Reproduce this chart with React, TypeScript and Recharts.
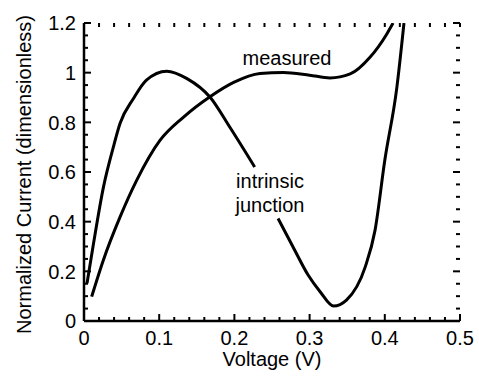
import { LineChart, Line, XAxis, YAxis } from "recharts";

// intrinsic junction curve (null = hidden behind the label)
const intrinsicV = [0.004, 0.012, 0.026, 0.039, 0.048, 0.066, 0.083, 0.11, 0.137, 0.168, 0.194, 0.227, 0.242, 0.258, 0.278, 0.298, 0.314, 0.332, 0.349, 0.374, 0.387, 0.4, 0.416, 0.4255];
const intrinsicI = [0.152, 0.3, 0.541, 0.7, 0.796, 0.897, 0.97, 1.006, 0.976, 0.9, 0.78, 0.62, null, 0.413, 0.298, 0.185, 0.118, 0.06, 0.084, 0.218, 0.365, 0.647, 0.94, 1.2];

// measured curve
const measuredV = [0.0102, 0.0257, 0.048, 0.07, 0.101, 0.132, 0.168, 0.199, 0.234, 0.265, 0.3, 0.327, 0.354, 0.38, 0.4025, 0.411];
const measuredI = [0.098, 0.245, 0.419, 0.566, 0.727, 0.82, 0.904, 0.961, 0.997, 1.001, 0.99, 0.979, 0.995, 1.061, 1.155, 1.2];

const xTickLabels = ["0", "0.1", "0.2", "0.3", "0.4", "0.5"];
const yTickLabels = ["0", "0.2", "0.4", "0.6", "0.8", "1", "1.2"];

const intrinsic = intrinsicV.map((x, i) => ({ x, y: intrinsicI[i] }));
const measured = measuredV.map((x, i) => ({ x, y: measuredI[i] }));

// minor ticks every 0.02 on x, 0.05 on y
const xTicks = Array.from({ length: 26 }, (_, i) => i / 50);
const yTicks = Array.from({ length: 25 }, (_, i) => i / 20);

const W = 479;
const H = 376;
const LEFT = 84;
const RIGHT = 460;
const TOP = 23;
const BOTTOM = 321;
const FONT = "'Liberation Sans', Arial, sans-serif";

const XTick = (props: any) => {
  const { x, payload } = props;
  const i = Math.round(payload.value * 50);
  const major = i % 5 === 0;
  const len = major ? 7 : 4;
  return (
    <g>
      <line x1={x} x2={x} y1={BOTTOM} y2={BOTTOM - len} stroke="#000" strokeWidth={2} />
      <line x1={x} x2={x} y1={TOP} y2={TOP + 4} stroke="#000" strokeWidth={2} />
      {major && (
        <text x={x} y={345} textAnchor="middle" fontSize={20} fontFamily={FONT} fill="#000">
          {xTickLabels[i / 5]}
        </text>
      )}
    </g>
  );
};

const YTick = (props: any) => {
  const { y, payload } = props;
  const i = Math.round(payload.value * 20);
  const major = i % 4 === 0;
  const len = major ? 7 : 4;
  return (
    <g>
      <line x1={LEFT} x2={LEFT + len} y1={y} y2={y} stroke="#000" strokeWidth={2} />
      <line x1={RIGHT} x2={RIGHT - len} y1={y} y2={y} stroke="#000" strokeWidth={2} />
      {major && (
        <text x={76} y={y} dy="0.36em" textAnchor="end" fontSize={20} fontFamily={FONT} fill="#000">
          {yTickLabels[i / 4]}
        </text>
      )}
    </g>
  );
};

const axisLine = { stroke: "#000", strokeWidth: 2.5 };

export default function App() {
  return (
    <div style={{ position: "absolute", left: 0, top: 0, background: "#fff" }}>
      <LineChart width={W} height={H} margin={{ top: TOP, right: W - RIGHT, bottom: 0, left: 0 }}>
        <XAxis
          dataKey="x"
          type="number"
          domain={[0, 0.5]}
          ticks={xTicks}
          interval={0}
          tick={XTick}
          tickLine={false}
          axisLine={axisLine}
          height={H - BOTTOM}
          allowDataOverflow
        />
        <XAxis xAxisId="top" orientation="top" type="number" domain={[0, 0.5]} tick={false} tickLine={false} axisLine={axisLine} height={0} />
        <YAxis
          type="number"
          domain={[0, 1.2]}
          ticks={yTicks}
          interval={0}
          tick={YTick}
          tickLine={false}
          axisLine={axisLine}
          width={LEFT}
          allowDataOverflow
        />
        <YAxis yAxisId="right" orientation="right" type="number" domain={[0, 1.2]} tick={false} tickLine={false} axisLine={axisLine} width={0} />
        <Line data={intrinsic} dataKey="y" type="monotone" stroke="#000" strokeWidth={3} dot={false} isAnimationActive={false} />
        <Line data={measured} dataKey="y" type="monotone" stroke="#000" strokeWidth={3} dot={false} isAnimationActive={false} />
        <g fontFamily={FONT} fontSize={20} fill="#000">
          <text x={287} y={65} textAnchor="middle">measured</text>
          <text x={270} y={188} textAnchor="middle">intrinsic</text>
          <text x={270} y={212} textAnchor="middle">junction</text>
          <text x={272} y={366} textAnchor="middle">Voltage (V)</text>
          <text x={31} y={174.5} textAnchor="middle" transform="rotate(-90 31 174.5)">
            Normalized Current (dimensionless)
          </text>
        </g>
      </LineChart>
    </div>
  );
}
